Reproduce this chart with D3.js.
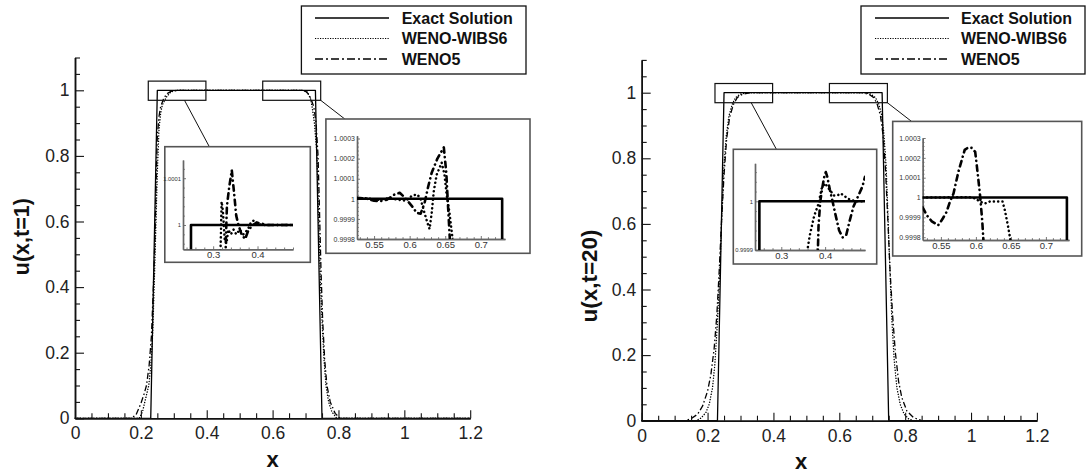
<!DOCTYPE html>
<html>
<head>
<meta charset="utf-8">
<script src="https://cdn.jsdelivr.net/npm/d3@7"></script>
<style>
  body { margin: 0; background: #fff; }
  svg { display: block; }
  text { font-family: "Liberation Sans", Arial, sans-serif; }
</style>
</head>
<body>
<svg id="chart" width="1087" height="474"></svg>
<script>
// ---------- data ----------
const xDomain = [0, 1.2];
const yDomain = [0, 1.1];
const xTicks = [0, 0.2, 0.4, 0.6, 0.8, 1, 1.2];
const yTicks = [0, 0.2, 0.4, 0.6, 0.8, 1];
const seriesNames = ["Exact Solution", "WENO-WIBS6", "WENO5"];

// exact square wave as sampled on the grid
const exactProfile = [[0,0],[0.23,0],[0.25,1],[0.73,1],[0.75,0],[1.2,0]];

// t = 1
const wibs6T1 = [[0,0],[0.195,0],[0.205,0.02],[0.212,0.05],[0.224,0.1],[0.23,0.16],[0.236,0.26],[0.241,0.42],[0.246,0.6],[0.25,0.75],[0.255,0.88],[0.26,0.93],[0.265,0.955],[0.278,0.98],[0.29,0.994],[0.3,0.998],[0.31,1],[0.695,1],[0.705,0.995],[0.715,0.975],[0.72,0.95],[0.727,0.9],[0.735,0.8],[0.74,0.6],[0.745,0.42],[0.75,0.3],[0.756,0.18],[0.762,0.1],[0.77,0.05],[0.78,0.02],[0.795,0],[1.2,0]];
const weno5T1 = [[0,0],[0.17,0],[0.185,0.01],[0.2,0.045],[0.21,0.075],[0.217,0.1],[0.225,0.16],[0.232,0.25],[0.238,0.4],[0.243,0.55],[0.247,0.75],[0.25,0.86],[0.255,0.92],[0.26,0.95],[0.27,0.977],[0.28,0.99],[0.29,0.996],[0.3,0.999],[0.32,1],[0.69,1],[0.7,0.997],[0.71,0.988],[0.718,0.97],[0.725,0.95],[0.732,0.9],[0.738,0.8],[0.742,0.65],[0.747,0.45],[0.752,0.3],[0.758,0.18],[0.765,0.1],[0.775,0.05],[0.79,0.015],[0.805,0],[1.2,0]];

// t = 1, close-up samples near the plateau edges
const wibs6T1Left = [[0.314,0.9999],[0.317,0.99996],[0.319,1.00005],[0.322,1.00003],[0.326,0.99997],[0.33,0.99996],[0.334,0.99999],[0.34,0.99998],[0.346,0.99999],[0.352,0.99998],[0.36,0.99999],[0.368,0.99998],[0.378,0.99999],[0.385,1.000005],[0.392,1.00001],[0.4,1.000003],[0.41,1.0],[0.48,1.0]];
const weno5T1Left = [[0.327,0.9999],[0.329,0.99998],[0.331,1.00004],[0.336,1.00008],[0.342,1.000117],[0.347,1.00007],[0.352,1.00002],[0.357,1.0],[0.364,0.99998],[0.372,0.99997],[0.38,0.99999],[0.39,1.0],[0.398,1.000005],[0.41,1.000003],[0.42,1.0],[0.48,1.0]];
const wibs6T1Right = [[0.526,1.0],[0.54,1.000003],[0.555,0.999995],[0.57,1.000002],[0.585,0.999995],[0.595,0.99999],[0.603,1.000015],[0.61,1.000022],[0.615,1.000005],[0.62,0.99994],[0.625,0.99988],[0.628,0.99985],[0.631,0.99993],[0.634,1.00004],[0.638,1.00012],[0.645,1.00018],[0.649,1.00012],[0.652,1.00002],[0.656,0.99993],[0.66,0.99981],[0.663,0.9997]];
const weno5T1Right = [[0.526,1.000005],[0.54,1.0],[0.55,0.99999],[0.558,0.999988],[0.568,0.999995],[0.578,1.00002],[0.586,1.00003],[0.592,1.00001],[0.597,0.99999],[0.604,0.99996],[0.61,0.99993],[0.6155,0.999926],[0.621,0.99998],[0.626,1.00006],[0.631,1.00013],[0.639,1.0002],[0.648,1.000256],[0.6515,1.00013],[0.654,0.99996],[0.658,0.9997]];

// t = 20
const wibs6T20 = [[0,0],[0.165,0],[0.18,0.008],[0.195,0.025],[0.205,0.05],[0.215,0.1],[0.222,0.17],[0.23,0.3],[0.237,0.45],[0.243,0.62],[0.25,0.78],[0.257,0.87],[0.265,0.93],[0.275,0.965],[0.285,0.985],[0.3,0.996],[0.32,1],[0.68,1],[0.695,0.996],[0.71,0.985],[0.72,0.965],[0.728,0.935],[0.735,0.88],[0.742,0.78],[0.748,0.62],[0.754,0.45],[0.76,0.3],[0.767,0.18],[0.775,0.1],[0.785,0.05],[0.797,0.02],[0.81,0.006],[0.825,0],[1.2,0]];
const weno5T20 = [[0,0],[0.13,0],[0.15,0.006],[0.17,0.02],[0.185,0.045],[0.2,0.09],[0.21,0.14],[0.22,0.22],[0.228,0.32],[0.235,0.45],[0.242,0.6],[0.25,0.75],[0.258,0.86],[0.267,0.925],[0.278,0.963],[0.29,0.985],[0.305,0.995],[0.33,1],[0.67,1],[0.69,0.995],[0.705,0.985],[0.715,0.965],[0.725,0.93],[0.733,0.87],[0.74,0.77],[0.747,0.62],[0.754,0.46],[0.762,0.32],[0.77,0.21],[0.78,0.12],[0.79,0.07],[0.805,0.03],[0.825,0.01],[0.85,0],[1.2,0]];

// t = 20, close-up samples
const wibs6T20Left = [[0.356,0.99988],[0.365,0.99993],[0.375,0.99997],[0.385,0.999995],[0.392,1.000026],[0.4,1.000037],[0.405,1.00003],[0.412,1.000022],[0.42,1.000012],[0.428,1.000012],[0.436,1.000016],[0.442,1.000012],[0.453,1.000005],[0.47,1.0],[0.491,1.0]];
const weno5T20Left = [[0.382,0.99985],[0.385,0.99995],[0.389,1.0],[0.393,1.000025],[0.398,1.00005],[0.4016,1.00006],[0.405,1.00005],[0.411,1.000023],[0.417,1.0],[0.423,0.999975],[0.432,0.99994],[0.44,0.999926],[0.448,0.99993],[0.456,0.99996],[0.465,0.99999],[0.476,1.000012],[0.485,1.00003],[0.491,1.00005]];
const wibs6T20Right = [[0.524,1.0],[0.55,1.0],[0.57,1.000002],[0.59,1.000002],[0.6,0.999995],[0.605,0.99998],[0.613,0.99997],[0.62,0.99998],[0.63,0.99998],[0.638,0.99998],[0.6414,0.999936],[0.6461,0.999852],[0.6496,0.99978]];
const weno5T20Right = [[0.524,0.99995],[0.53,0.99991],[0.537,0.99988],[0.546,0.99986],[0.552,0.99989],[0.558,0.999927],[0.563,0.99998],[0.568,1.00002],[0.575,1.00013],[0.584,1.00024],[0.589,1.000252],[0.594,1.00025],[0.599,1.00023],[0.601,1.00017],[0.6057,1.00002],[0.609,0.999885],[0.611,0.99977]];

// zoom windows on the main plots: [x0, x1, y0, y1]
const zoomWindows = [[0.2225, 0.3975, 0.9695, 1.028], [0.57, 0.746, 0.9695, 1.028]];

// close-up axes: domains and tick values
const insetLeftT1 = { xDomain: [0.232, 0.48], yDomain: [0.999948, 1.000139], xMajor: [0.3, 0.4], xMinorStep: 0.02, yMajor: [1, 1.0001], yMinorStep: 0.00002 };
const insetRightT1 = { xDomain: [0.526, 0.734], yDomain: [0.9998, 1.000314], xMajor: [0.55, 0.6, 0.65, 0.7], xMinorStep: 0.01, yMajor: [0.9998, 0.9999, 1, 1.0001, 1.0002, 1.0003], yMinorStep: 0.00002 };
const insetLeftT20 = { xDomain: [0.24, 0.491], yDomain: [0.9999, 1.000078], xMajor: [0.3, 0.4], xMinorStep: 0.02, yMajor: [0.9999, 1], yMinorStep: 0.00002 };
const insetRightT20 = { xDomain: [0.524, 0.733], yDomain: [0.999786, 1.0003], xMajor: [0.55, 0.6, 0.65, 0.7], xMinorStep: 0.01, yMajor: [0.9998, 0.9999, 1, 1.0001, 1.0002, 1.0003], yMinorStep: 0.00002 };

// ---------- layout ----------
const layoutT1 = {
  plot: { x0: 75, x1: 470.2, y0: 418.3, y1: 57.5 },
  font: 17.5,
  yLabel: { text: "u(x,t=1)", x: 21.5, y: 236.7, size: 21.5 },
  xLabel: { x: 272.6, y: 467 },
  legend: { x0: 301.4, x1: 526, y0: 6, y1: 74, lx0: 315, lx1: 389, tx: 401.7, rows: [18, 38.5, 59] },
  connectors: [[0.3325, 209.3, 146.7], [0.746, 344.8, 119]],
  insets: [
    { box: { x0: 164.8, x1: 310.3, y0: 146.7, y1: 262.3 }, ax: { x0: 183, x1: 293, yb: 249.3, yt: 160 }, yFont: 5.8 },
    { box: { x0: 325.9, x1: 530, y0: 119, y1: 253.3 }, ax: { x0: 357, x1: 505, yb: 239, yt: 135.7 }, yFont: 7 }
  ]
};
const layoutT20 = {
  plot: { x0: 641.7, x1: 1036.9, y0: 420.7, y1: 59.9 },
  font: 17.5,
  yLabel: { text: "u(x,t=20)", x: 589, y: 276, size: 22.5 },
  xLabel: { x: 801, y: 469 },
  legend: { x0: 861, x1: 1085, y0: 6, y1: 74, lx0: 875, lx1: 949, tx: 961, rows: [18, 38.5, 59] },
  connectors: [[0.3325, 776.4, 149.3], [0.746, 911.5, 121.4]],
  insets: [
    { box: { x0: 733.3, x1: 876.7, y0: 149.3, y1: 264 }, ax: { x0: 755, x1: 865, yb: 250, yt: 163.3 }, yFont: 5.8 },
    { box: { x0: 892.7, x1: 1081.7, y0: 121.4, y1: 256 }, ax: { x0: 922.7, x1: 1069, yb: 240, yt: 138 }, yFont: 7 }
  ]
};

const mainStyles = [
  { width: 1.3, dash: null, cap: "butt" },
  { width: 1.4, dash: "0.1,2.6", cap: "round" },
  { width: 1.3, dash: "6,2.5,1.5,2.5", cap: "butt" }
];
const insetStyles = [
  { width: 2.6, dash: null, cap: "butt" },
  { width: 2.5, dash: "0.1,4.2", cap: "round" },
  { width: 2.6, dash: "5.5,4.5,0.1,4.5", cap: "round" }
];
const legendStyles = [
  { width: 1.3, dash: null, cap: "butt" },
  { width: 1.2, dash: "1.2,1.3", cap: "butt" },
  { width: 1.3, dash: "8,3,2,3", cap: "butt" }
];

const svg = d3.select("#chart");
let clipCount = 0;

function strokeStyle(sel, st) {
  sel.attr("fill", "none").attr("stroke", "#000").attr("stroke-width", st.width)
    .attr("stroke-linecap", st.cap).attr("stroke-linejoin", "round");
  if (st.dash) sel.attr("stroke-dasharray", st.dash);
  return sel;
}

function minorValues(domain, step, majors) {
  const start = Math.ceil(domain[0] / step - 1e-6) * step;
  return d3.range(start, domain[1] + step * 1e-3, step)
    .filter(v => v >= domain[0] - 1e-12 && v <= domain[1] + 1e-12)
    .filter(v => !majors.some(m => Math.abs(m - v) < step * 1e-3));
}

function drawInset(L, spec, seriesData) {
  const g = svg.append("g");
  const b = L.box, a = L.ax;
  g.append("rect")
    .attr("x", b.x0).attr("y", b.y0)
    .attr("width", b.x1 - b.x0).attr("height", b.y1 - b.y0)
    .attr("fill", "#fff").attr("stroke", "#555").attr("stroke-width", 1.6);

  const x = d3.scaleLinear().domain(spec.xDomain).range([a.x0, a.x1]);
  const y = d3.scaleLinear().domain(spec.yDomain).range([a.yb, a.yt]);

  const styleAxis = (sel, fs) => {
    sel.select(".domain").attr("stroke", "#666").attr("stroke-width", 1.4);
    sel.selectAll(".tick line").attr("stroke", "#666").attr("stroke-width", 0.9);
    sel.selectAll(".tick text").attr("font-size", fs).attr("fill", "#333")
      .attr("font-family", "'Liberation Sans', Arial, sans-serif");
  };

  const gx = g.append("g").attr("transform", `translate(0,${a.yb})`)
    .call(d3.axisBottom(x).tickValues(spec.xMajor).tickFormat(d3.format(".2~f"))
      .tickSize(-3).tickSizeOuter(0).tickPadding(2));
  styleAxis(gx, 9.5);
  const gxm = g.append("g").attr("transform", `translate(0,${a.yb})`)
    .call(d3.axisBottom(x).tickValues(minorValues(spec.xDomain, spec.xMinorStep, spec.xMajor))
      .tickFormat("").tickSize(-1.8).tickSizeOuter(0));
  styleAxis(gxm, 0);

  const gy = g.append("g").attr("transform", `translate(${a.x0},0)`)
    .call(d3.axisLeft(y).tickValues(spec.yMajor).tickFormat(d3.format(".4~f"))
      .tickSize(-3).tickSizeOuter(0).tickPadding(2));
  styleAxis(gy, L.yFont);
  const gym = g.append("g").attr("transform", `translate(${a.x0},0)`)
    .call(d3.axisLeft(y).tickValues(minorValues(spec.yDomain, spec.yMinorStep, spec.yMajor))
      .tickFormat("").tickSize(-1.8).tickSizeOuter(0));
  styleAxis(gym, 0);

  const id = "clip" + (clipCount++);
  g.append("clipPath").attr("id", id).append("rect")
    .attr("x", a.x0).attr("y", a.yt).attr("width", a.x1 - a.x0).attr("height", a.yb - a.yt);
  const cg = g.append("g").attr("clip-path", `url(#${id})`);
  const line = d3.line().x(d => x(d[0])).y(d => y(d[1]));
  seriesData.forEach((s, i) => {
    strokeStyle(cg.append("path").datum(s).attr("d", line), insetStyles[i]);
  });
}

function drawPanel(L, series, insetSpecs, insetSeries) {
  const g = svg.append("g");
  const x = d3.scaleLinear().domain(xDomain).range([L.plot.x0, L.plot.x1]);
  const y = d3.scaleLinear().domain(yDomain).range([L.plot.y0, L.plot.y1]);
  const line = d3.line().x(d => x(d[0])).y(d => y(d[1]));

  series.forEach((s, i) => {
    strokeStyle(g.append("path").datum(s).attr("d", line), mainStyles[i]);
  });

  // axes with inward ticks
  const styleAxis = sel => {
    sel.select(".domain").attr("stroke", "#111").attr("stroke-width", 1.5);
    sel.selectAll(".tick line").attr("stroke", "#111").attr("stroke-width", 1.1);
    sel.selectAll(".tick text").attr("font-size", L.font).attr("fill", "#222")
      .attr("font-family", "'Liberation Sans', Arial, sans-serif");
  };
  const fmt = d3.format("~g");
  const gx = g.append("g").attr("transform", `translate(0,${L.plot.y0})`)
    .call(d3.axisBottom(x).tickValues(xTicks).tickFormat(fmt).tickSize(-8).tickSizeOuter(0).tickPadding(8.5));
  styleAxis(gx);
  const gxm = g.append("g").attr("transform", `translate(0,${L.plot.y0})`)
    .call(d3.axisBottom(x).tickValues(minorValues(xDomain, 0.05, xTicks)).tickFormat("").tickSize(-5).tickSizeOuter(0));
  styleAxis(gxm);
  const gy = g.append("g").attr("transform", `translate(${L.plot.x0},0)`)
    .call(d3.axisLeft(y).tickValues(yTicks).tickFormat(fmt).tickSize(-9).tickSizeOuter(0).tickPadding(5.5));
  styleAxis(gy);
  const gym = g.append("g").attr("transform", `translate(${L.plot.x0},0)`)
    .call(d3.axisLeft(y).tickValues(minorValues(yDomain, 0.05, yTicks)).tickFormat("").tickSize(-5).tickSizeOuter(0));
  styleAxis(gym);

  // axis titles
  g.append("text")
    .attr("transform", `translate(${L.yLabel.x},${L.yLabel.y}) rotate(-90)`)
    .attr("text-anchor", "middle").attr("dy", "0.35em")
    .attr("font-size", L.yLabel.size).attr("font-weight", "bold").attr("fill", "#111")
    .text(L.yLabel.text);
  g.append("text")
    .attr("x", L.xLabel.x).attr("y", L.xLabel.y)
    .attr("text-anchor", "middle")
    .attr("font-size", 22).attr("font-weight", "bold").attr("fill", "#111")
    .text("x");

  // zoom windows and leader lines
  zoomWindows.forEach((w, i) => {
    g.append("rect")
      .attr("x", x(w[0])).attr("y", y(w[3]))
      .attr("width", x(w[1]) - x(w[0])).attr("height", y(w[2]) - y(w[3]))
      .attr("fill", "none").attr("stroke", "#111").attr("stroke-width", 1.2);
    const c = L.connectors[i];
    g.append("line")
      .attr("x1", x(c[0])).attr("y1", y(w[2]))
      .attr("x2", c[1]).attr("y2", c[2])
      .attr("stroke", "#111").attr("stroke-width", 1);
  });

  // close-ups
  L.insets.forEach((inL, i) => drawInset(inL, insetSpecs[i], insetSeries[i]));

  // legend
  const lg = L.legend;
  const leg = svg.append("g");
  leg.append("rect")
    .attr("x", lg.x0).attr("y", lg.y0).attr("width", lg.x1 - lg.x0).attr("height", lg.y1 - lg.y0)
    .attr("fill", "#fff").attr("stroke", "#111").attr("stroke-width", 1.3);
  seriesNames.forEach((name, i) => {
    strokeStyle(leg.append("line")
      .attr("x1", lg.lx0).attr("x2", lg.lx1).attr("y1", lg.rows[i]).attr("y2", lg.rows[i]), legendStyles[i]);
    leg.append("text")
      .attr("x", lg.tx).attr("y", lg.rows[i] + 5.8)
      .attr("font-size", 16).attr("font-weight", "bold").attr("fill", "#111")
      .text(name);
  });
}

drawPanel(layoutT1,
  [exactProfile, wibs6T1, weno5T1],
  [insetLeftT1, insetRightT1],
  [[exactProfile, wibs6T1Left, weno5T1Left], [exactProfile, wibs6T1Right, weno5T1Right]]);

drawPanel(layoutT20,
  [exactProfile, wibs6T20, weno5T20],
  [insetLeftT20, insetRightT20],
  [[exactProfile, wibs6T20Left, weno5T20Left], [exactProfile, wibs6T20Right, weno5T20Right]]);
</script>
</body>
</html>
